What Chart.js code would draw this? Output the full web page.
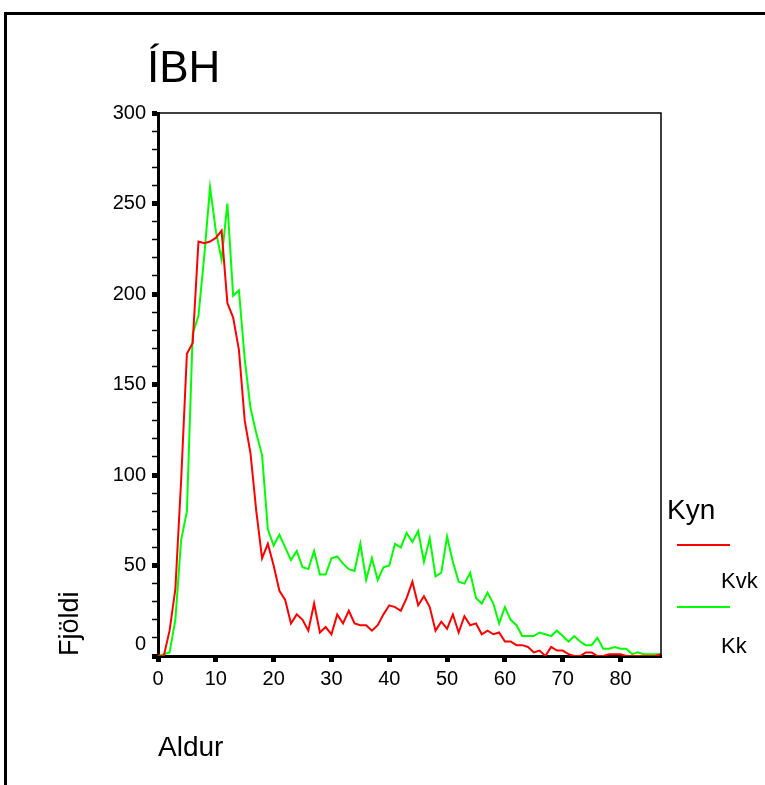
<!DOCTYPE html>
<html>
<head>
<meta charset="utf-8">
<script src="https://cdn.jsdelivr.net/npm/chart.js@4.4.0/dist/chart.umd.min.js"></script>
<style>
html,body{margin:0;padding:0;background:#fff;}
#wrap{position:relative;width:765px;height:785px;overflow:hidden;}
#frame{position:absolute;left:4px;top:12px;width:800px;height:800px;border-top:3px solid #000;border-left:3px solid #000;}
canvas{position:absolute;left:0;top:0;}
</style>
</head>
<body>
<div id="wrap">
  <div id="frame"></div>
  <canvas id="c" width="765" height="785"></canvas>
</div>
<script>
const title = 'ÍBH';
const xTitle = 'Aldur';
const yTitle = 'Fjöldi';
const legendTitle = 'Kyn';
const seriesNames = ['Kvk', 'Kk'];

// aldur 0..87
const ages = [0,1,2,3,4,5,6,7,8,9,10,11,12,13,14,15,16,17,18,19,20,21,22,23,24,25,26,27,28,29,
  30,31,32,33,34,35,36,37,38,39,40,41,42,43,44,45,46,47,48,49,50,51,52,53,54,55,56,57,58,59,
  60,61,62,63,64,65,66,67,68,69,70,71,72,73,74,75,76,77,78,79,80,81,82,83,84,85,86,87];

const kvk = [0,0,14,37,97,167,173,229,228,229,231,235,195,187,169,130,112,80,54,62,
  50,36,31,18,23,20,14,29,13,16,12,23,18,25,18,17,17,14,17,23,
  28,27,25,32,41,28,33,27,14,19,15,23,13,22,17,18,12,14,12,13,
  8,8,6,6,5,2,3,0,5,3,3,1,0,0,2,2,0,0,1,1,1,0,0,0,0,0,0,1];

const kk = [0,1,2,20,64,80,178,188,221,259,235,219,250,199,202,164,137,123,111,70,
  61,67,60,53,58,49,48,58,45,45,54,55,51,48,47,62,42,54,42,49,
  50,62,60,68,63,69,52,65,44,46,66,52,41,40,46,32,29,35,29,18,
  27,20,17,11,11,11,13,12,11,14,11,8,11,8,6,6,10,4,4,5,4,4,1,2,1,1,1,1];

const xTicks = [0,10,20,30,40,50,60,70,80];
const yTicks = [0,50,100,150,200,250,300];

const colors = ['#ff0000', '#00ff00'];
const FONT = "'Liberation Sans', Arial, sans-serif";
Chart.defaults.font.family = FONT;
Chart.defaults.color = '#000';

const extras = {
  id: 'extras',
  afterDraw(chart) {
    const {ctx, chartArea: a, scales} = chart;
    ctx.save();
    // frame top / right
    ctx.strokeStyle = '#000';
    ctx.lineWidth = 1.5;
    ctx.beginPath();
    ctx.moveTo(a.left, a.top);
    ctx.lineTo(a.right, a.top);
    ctx.lineTo(a.right, a.bottom);
    ctx.stroke();

    // "0" label sits a bit above the axis
    ctx.fillStyle = '#000';
    ctx.font = '20px ' + FONT;
    ctx.textAlign = 'right';
    ctx.textBaseline = 'middle';
    ctx.fillText(String(yTicks[0]), 146, scales.y.getPixelForValue(yTicks[0]) - 12);

    // title
    ctx.textAlign = 'left';
    ctx.textBaseline = 'alphabetic';
    ctx.font = '44px ' + FONT;
    ctx.fillText(title, 147, 82);

    // legend
    ctx.font = '28px ' + FONT;
    ctx.textBaseline = 'middle';
    ctx.fillText(legendTitle, 667, 511);
    const lineY = [545, 607], textY = [582, 647];
    chart.data.datasets.forEach((ds, i) => {
      ctx.strokeStyle = ds.borderColor;
      ctx.lineWidth = 2;
      ctx.beginPath();
      ctx.moveTo(677, lineY[i]);
      ctx.lineTo(730, lineY[i]);
      ctx.stroke();
      ctx.font = '22px ' + FONT;
      ctx.fillText(ds.label, 721, textY[i]);
    });
    ctx.restore();
  }
};

new Chart(document.getElementById('c'), {
  type: 'line',
  data: {
    datasets: seriesNames.map((name, i) => ({
      label: name,
      data: ages.map((a, j) => ({x: a, y: [kvk, kk][i][j]})),
      borderColor: colors[i],
      borderWidth: 2,
      pointRadius: 0,
      tension: 0,
      fill: false
    }))
  },
  options: {
    responsive: false,
    animation: false,
    layout: {padding: {left: 40, top: 113, right: 104, bottom: 10}},
    plugins: {legend: {display: false}, tooltip: {enabled: false}},
    scales: {
      x: {
        type: 'linear', min: 0, max: 87, z: 1,
        afterBuildTicks: s => { s.ticks = xTicks.map(v => ({value: v})); },
        ticks: {font: {size: 20}, padding: 5, maxRotation: 0, autoSkip: false},
        grid: {drawOnChartArea: false, tickLength: 6, tickWidth: 5, tickColor: '#000'},
        border: {color: '#000', width: 3},
        title: {display: true, text: xTitle, align: 'start', font: {size: 28}, padding: {bottom: 10}},
        afterFit: s => { s.height = 119; s.paddingLeft = 0; s.paddingRight = 0; }
      },
      y: {
        min: 0, max: 300,
        ticks: {
          stepSize: 10, autoSkip: false, padding: 6, font: {size: 20},
          callback: v => (yTicks.includes(v) && v !== yTicks[0]) ? String(v) : ''
        },
        grid: {
          drawOnChartArea: false, tickLength: 6, tickColor: '#000',
          tickWidth: c => (c.tick && yTicks.includes(c.tick.value)) ? 5 : 1.5
        },
        border: {color: '#000', width: 3},
        title: {display: true, text: yTitle, align: 'start', font: {size: 27}, padding: {top: 14}},
        afterFit: s => { s.width = 118; s.paddingTop = 0; s.paddingBottom = 0; }
      }
    }
  },
  plugins: [extras]
});
</script>
</body>
</html>
